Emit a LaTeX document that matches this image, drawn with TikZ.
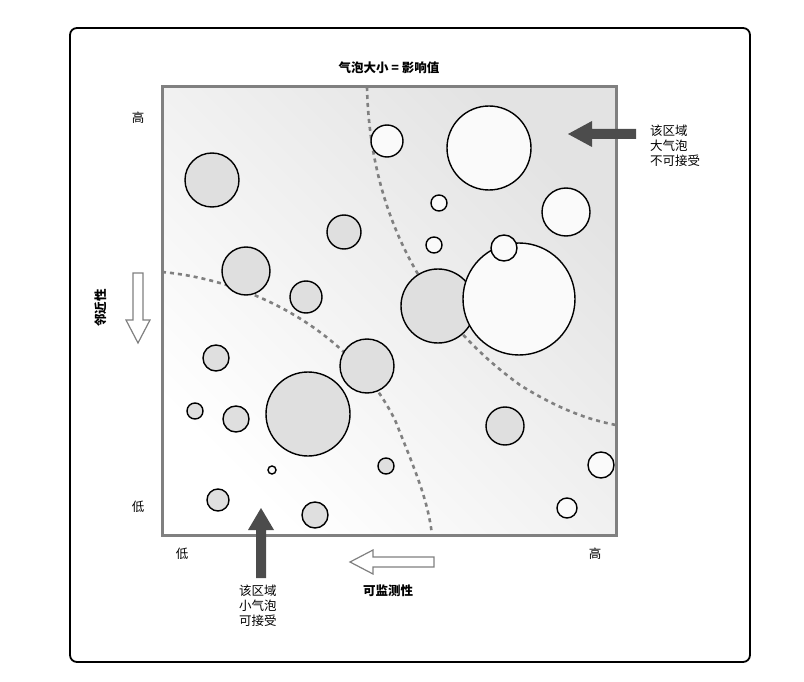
\documentclass[tikz,border=0pt]{standalone}
\usepackage{fontspec}
\setmainfont{Liberation Sans}
\newfontfamily\cjk{Noto Sans CJK SC}
\begin{document}
\begin{tikzpicture}[x=1pt,y=-1pt,
  bubble/.style={draw=black, line width=1.4pt, fill=gray!25},
  wbubble/.style={draw=black, line width=1.4pt, fill=gray!4},
  border/.style={gray, line width=2.6pt, dash pattern=on 4pt off 4pt},
  lbl/.style={font=\cjk\fontsize{12.5}{15}\selectfont, align=left},
  blbl/.style={font=\cjk\bfseries\fontsize{12.5}{15}\selectfont}]
  \useasboundingbox (0,0) rectangle (804,682);
  \draw[line width=1.8pt, rounded corners=7pt] (70,28) rectangle (750,662);
  % plot area
  \shade[top color=gray!22, bottom color=white, shading angle=-45] (162,87) rectangle (616,535);
  \draw[border] (367,87) .. controls (370,220) and (430,320) .. (520,385) .. controls (560,410) and (590,420) .. (616,425);
  \draw[border] (162,272) .. controls (250,280) and (350,330) .. (395,420) .. controls (415,470) and (428,500) .. (432,535);
  \foreach \x/\y/\r in {212/180/27, 344/232/17, 246/271/24, 306/297/16, 438/306/37,
    367/366/27, 216/358/13, 308/414/42, 195/411/8, 236/419/13, 505/426/19,
    386/466/8, 218/500/11, 315/515/13}
    \draw[bubble] (\x,\y) circle (\r);
  \foreach \x/\y/\r in {387/141/16, 489/148/42, 566/212/24, 439/203/8, 434/245/8,
    519/299/56, 504/248/13, 272/470/4, 601/465/13, 567/508/10}
    \draw[wbubble] (\x,\y) circle (\r);
  \draw[gray, line width=3pt] (162,87) rectangle (616,535);
  % arrows
  \fill[black!70] (636,129) -- (592,129) -- (592,121) -- (568,134) -- (592,147) -- (592,139) -- (636,139) -- cycle;
  \fill[black!70] (256,578) -- (256,530) -- (248,530) -- (261,508) -- (274,530) -- (266,530) -- (266,578) -- cycle;
  \draw[gray, line width=1.2pt, fill=white] (133,273) -- (143,273) -- (143,320) -- (150,320) -- (138,343) -- (126,320) -- (133,320) -- cycle;
  \draw[gray, line width=1.2pt, fill=white] (434,557) -- (373,557) -- (373,550) -- (350,562) -- (373,574) -- (373,567) -- (434,567) -- cycle;
  % texts
  \node[blbl] (title) at (389,68) {气泡大小 = 影响值};
  \node[lbl] (ytop) at (138,118) {高};
  \node[lbl] (ybot) at (138,507) {低};
  \node[lbl] (xleft) at (182,554) {低};
  \node[lbl] (xright) at (595,554) {高};
  \node[blbl, rotate=90] (ylabel) at (101,308) {邻近性};
  \node[blbl] (xlabel) at (388,591) {可监测性};
  \node[lbl, anchor=north west, inner sep=0pt] (bignote) at (650,125) {该区域\\大气泡\\不可接受};
  \node[lbl, anchor=north west, inner sep=0pt] (smallnote) at (239,585) {该区域\\小气泡\\可接受};
\end{tikzpicture}
\end{document}
